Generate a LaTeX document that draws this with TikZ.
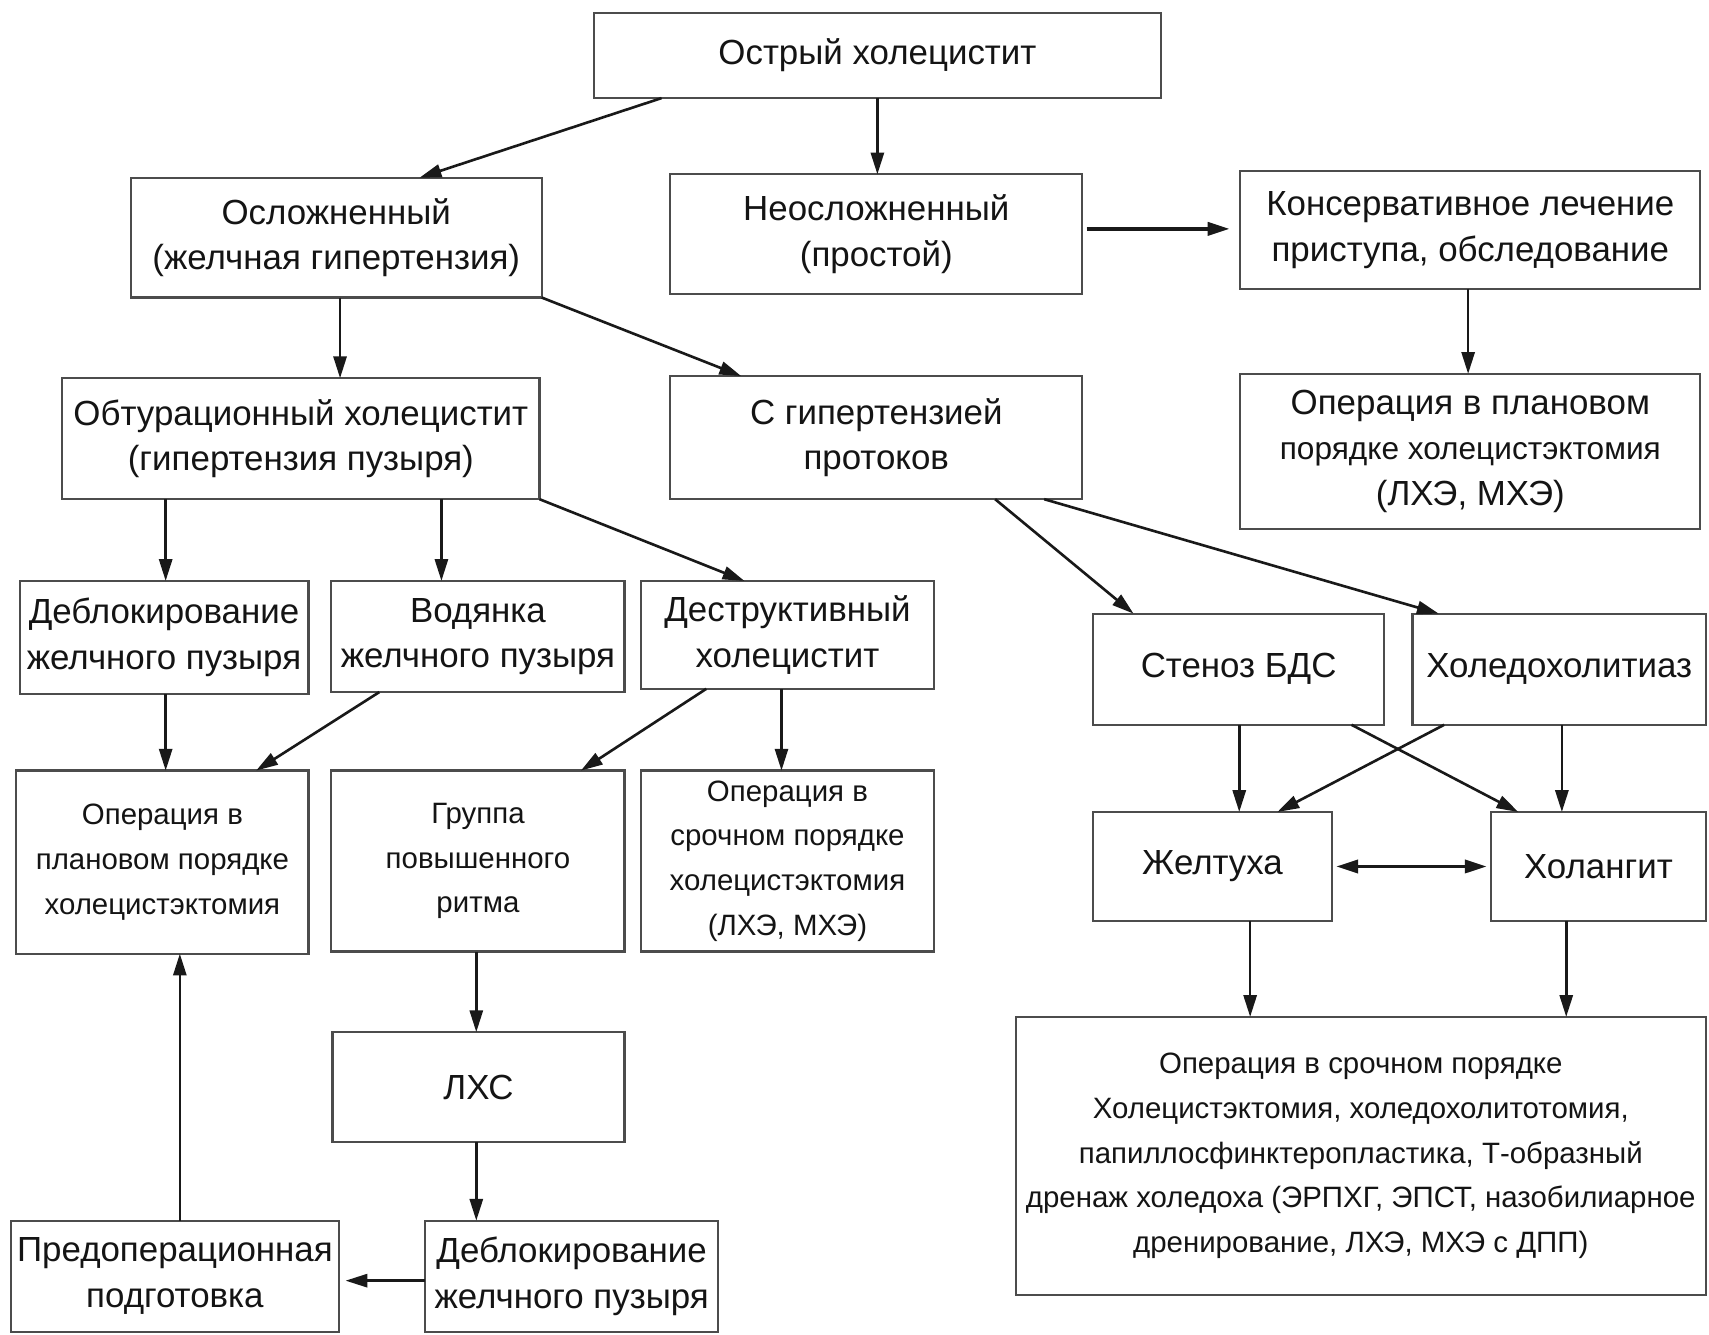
\documentclass[tikz,border=0pt]{standalone}
\usepackage{fontspec}
\setmainfont{Liberation Sans}
\usetikzlibrary{arrows.meta,calc}
\newcommand\mybox[7]{\node[box,#2,minimum width={(#5-#3)*0.5pt},minimum height={(#6-#4)*0.5pt}] (#1) at ({(#3+#5)/2},{(#4+#6)/2}) {#7};}
\begin{document}
\begin{tikzpicture}[x=0.5pt,y=-0.5pt,
  box/.style={draw=black!70, line width=1pt, inner sep=0pt, outer sep=0pt, align=center, text=black!92, font=\fontsize{16}{21}\selectfont},
  sm/.style={font=\fontsize{13.5}{20.5}\selectfont},
  arr/.style={-{Triangle[length=10pt,width=6pt]}, line width=1.2pt, draw=black!90, fill=black!90},
  darr/.style={{Triangle[length=10pt,width=6pt]}-{Triangle[length=10pt,width=6pt]}, line width=1.5pt, draw=black!90, fill=black!90}]
\fill[white] (0,0) rectangle (1568,1224);
\useasboundingbox (0,0) rectangle (1568,1224);

\mybox{ostr}{}{545}{12}{1065}{90}{Острый холецистит}
\mybox{osl}{}{120}{163}{497}{273}{Осложненный\\(желчная гипертензия)}
\mybox{neosl}{}{615}{160}{993}{270}{Неосложненный\\(простой)}
\mybox{kons}{}{1138}{157}{1560}{265}{Консервативное лечение\\приступа, обследование}
\mybox{obt}{}{57}{347}{495}{458}{Обтурационный холецистит\\(гипертензия пузыря)}
\mybox{sgip}{}{615}{345}{993}{458}{С гипертензией\\протоков}
\mybox{opr1}{}{1138}{343}{1560}{485}{Операция в плановом\\{\fontsize{14.5}{21}\selectfont порядке холецистэктомия}\\(ЛХЭ, МХЭ)}
\mybox{debl1}{}{18}{533}{283}{637}{Деблокирование\\желчного пузыря}
\mybox{vod}{}{304}{533}{573}{635}{Водянка\\желчного пузыря}
\mybox{destr}{}{588}{533}{857}{632}{Деструктивный\\холецистит}
\mybox{sten}{}{1003}{563}{1270}{665}{Стеноз БДС}
\mybox{holed}{}{1296}{563}{1565}{665}{Холедохолитиаз}
\mybox{opl}{sm}{15}{707}{283}{875}{Операция в\\плановом порядке\\холецистэктомия}
\mybox{grp}{sm}{304}{707}{573}{873}{Группа\\повышенного\\ритма}
\mybox{osr}{sm}{588}{707}{857}{873}{Операция в\\срочном порядке\\холецистэктомия\\(ЛХЭ, МХЭ)}
\mybox{zhelt}{}{1003}{745}{1222}{845}{Желтуха}
\mybox{holang}{}{1368}{745}{1565}{845}{Холангит}
\mybox{big}{sm}{932}{933}{1565}{1188}{Операция в срочном порядке\\Холецистэктомия, холедохолитотомия,\\папиллосфинктеропластика, Т-образный\\дренаж холедоха (ЭРПХГ, ЭПСТ, назобилиарное\\дренирование, ЛХЭ, МХЭ с ДПП)}
\mybox{lhs}{}{305}{947}{573}{1048}{ЛХС}
\mybox{pred}{}{10}{1120}{311}{1222}{Предоперационная\\подготовка}
\mybox{debl2}{}{390}{1120}{659}{1222}{Деблокирование\\желчного пузыря}

% connectors
\draw[arr] (ostr.south -| 607,0) -- (osl.north -| 385,0);
\draw[arr] (ostr.south -| 805,0) -- (neosl.north -| 805,0);
\draw[arr, line width=1.6pt, shorten <=2pt, shorten >=5pt] (neosl.east |- 0,210) -- (kons.west |- 0,210);
\draw[arr] (kons.south -| 1347,0) -- (opr1.north -| 1347,0);
\draw[arr] (osl.south -| 312,0) -- (obt.north -| 312,0);
\draw[arr] (osl.south east) -- (sgip.north -| 680,0);
\draw[arr] (obt.south -| 152,0) -- (debl1.north -| 152,0);
\draw[arr] (obt.south -| 405,0) -- (vod.north -| 405,0);
\draw[arr] (obt.south east) -- (destr.north -| 683,0);
\draw[arr] (sgip.south -| 913,0) -- (sten.north -| 1040,0);
\draw[arr] (sgip.south -| 958,0) -- (holed.north -| 1320,0);
\draw[arr] (debl1.south -| 152,0) -- (opl.north -| 152,0);
\draw[arr] (vod.south -| 348,0) -- (opl.north -| 235,0);
\draw[arr] (destr.south -| 648,0) -- (grp.north -| 533,0);
\draw[arr] (destr.south -| 717,0) -- (osr.north -| 717,0);
\draw[arr] (grp.south -| 437,0) -- (lhs.north -| 437,0);
\draw[arr] (lhs.south -| 437,0) -- (debl2.north -| 437,0);
\draw[arr, shorten >=3pt] (debl2.west |- 0,1175) -- (pred.east |- 0,1175);
\draw[arr] (pred.north -| 165,0) -- (opl.south -| 165,0);
\draw[arr] (sten.south -| 1137,0) -- (zhelt.north -| 1137,0);
\draw[arr] (sten.south -| 1240,0) -- (holang.north -| 1393,0);
\draw[arr] (holed.south -| 1325,0) -- (zhelt.north -| 1172,0);
\draw[arr] (holed.south -| 1433,0) -- (holang.north -| 1433,0);
\draw[darr, shorten <=2pt, shorten >=2pt] (zhelt.east |- 0,795) -- (holang.west |- 0,795);
\draw[arr] (zhelt.south -| 1147,0) -- (big.north -| 1147,0);
\draw[arr] (holang.south -| 1437,0) -- (big.north -| 1437,0);
\end{tikzpicture}
\end{document}
